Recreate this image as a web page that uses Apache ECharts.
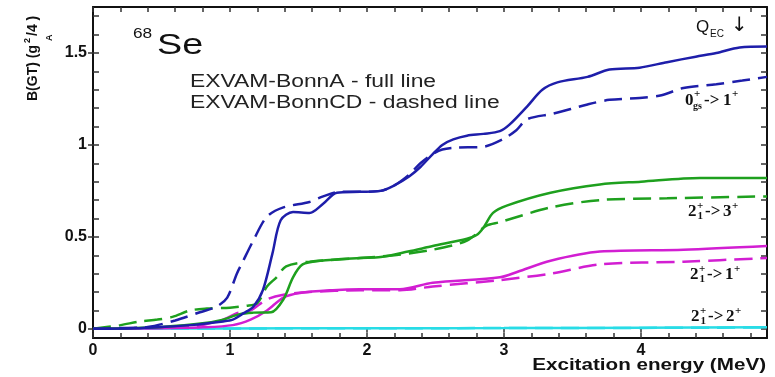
<!DOCTYPE html>
<html>
<head>
<meta charset="utf-8">
<script src="https://cdn.jsdelivr.net/npm/echarts@6/dist/echarts.min.js"></script>
<style>
  html, body { margin: 0; padding: 0; background: #fff; }
  #chart { width: 775px; height: 377px; }
</style>
</head>
<body>
<div id="chart"></div>
<script>
// tick positions and labels
const xTicks = [0, 0.2, 0.4, 0.6, 0.8, 1, 1.2, 1.4, 1.6, 1.8, 2, 2.2, 2.4, 2.6, 2.8, 3, 3.2, 3.4, 3.6, 3.8, 4, 4.2, 4.4, 4.6, 4.8];
const xLabels = [0, 1, 2, 3, 4];
const yTicks = [0, 0.1, 0.2, 0.3, 0.4, 0.5, 0.6, 0.7, 0.8, 0.9, 1, 1.1, 1.2, 1.3, 1.4, 1.5, 1.6, 1.7];
const yLabels = [0, 0.5, 1, 1.5];

// 0gs+ -> 1+
const bonnA_gs1 = [[0,0],[0.3,0.003],[0.5,0.01],[0.71,0.02],[0.95,0.04],[1.02,0.05],[1.1,0.085],[1.17,0.12],[1.24,0.21],[1.31,0.41],[1.37,0.59],[1.46,0.635],[1.58,0.63],[1.68,0.68],[1.78,0.74],[1.95,0.745],[2.1,0.75],[2.2,0.78],[2.31,0.83],[2.39,0.88],[2.48,0.95],[2.55,1.0],[2.63,1.03],[2.73,1.05],[2.85,1.06],[2.97,1.075],[3.04,1.11],[3.17,1.21],[3.28,1.3],[3.39,1.34],[3.61,1.37],[3.77,1.41],[3.99,1.42],[4.19,1.45],[4.4,1.48],[4.55,1.5],[4.72,1.53],[4.92,1.535]];
const bonnCD_gs1 = [[0,0],[0.2,0.004],[0.4,0.01],[0.6,0.045],[0.78,0.09],[0.9,0.12],[0.98,0.17],[1.05,0.3],[1.09,0.36],[1.17,0.48],[1.27,0.61],[1.39,0.66],[1.58,0.69],[1.68,0.72],[1.8,0.745],[1.95,0.745],[2.1,0.75],[2.2,0.78],[2.31,0.84],[2.39,0.9],[2.48,0.95],[2.55,0.975],[2.65,0.985],[2.85,0.99],[2.99,1.03],[3.09,1.08],[3.17,1.14],[3.36,1.17],[3.61,1.22],[3.77,1.245],[3.99,1.255],[4.15,1.27],[4.31,1.31],[4.55,1.33],[4.74,1.35],[4.92,1.37]];

// 2_1+ -> 3+
const bonnA_23 = [[0,0],[0.3,0.004],[0.5,0.01],[0.8,0.03],[0.95,0.05],[1.07,0.08],[1.17,0.088],[1.3,0.09],[1.39,0.16],[1.46,0.28],[1.53,0.35],[1.66,0.37],[1.95,0.385],[2.1,0.39],[2.3,0.42],[2.48,0.45],[2.73,0.49],[2.8,0.51],[2.85,0.55],[2.92,0.63],[3.02,0.67],[3.34,0.74],[3.7,0.785],[4.0,0.8],[4.43,0.82],[4.92,0.82]];
const bonnCD_23 = [[0,0],[0.2,0.02],[0.34,0.04],[0.47,0.05],[0.58,0.065],[0.71,0.1],[0.83,0.11],[1.0,0.115],[1.12,0.125],[1.2,0.14],[1.27,0.23],[1.34,0.28],[1.41,0.34],[1.58,0.365],[1.95,0.385],[2.2,0.4],[2.48,0.43],[2.73,0.48],[2.87,0.56],[2.97,0.58],[3.34,0.66],[3.7,0.7],[4.19,0.71],[4.92,0.72]];

// 2_1+ -> 1+
const bonnA_21 = [[0,0],[0.5,0.003],[0.8,0.008],[1.02,0.02],[1.15,0.05],[1.27,0.1],[1.39,0.17],[1.51,0.195],[1.75,0.21],[1.95,0.215],[2.24,0.215],[2.48,0.25],[2.97,0.28],[3.1,0.31],[3.34,0.37],[3.7,0.42],[4.31,0.43],[4.92,0.45]];
const bonnCD_21 = [[0,0],[0.4,0.005],[0.71,0.01],[0.95,0.05],[1.05,0.085],[1.15,0.1],[1.27,0.16],[1.39,0.185],[1.58,0.2],[1.95,0.21],[2.24,0.21],[2.48,0.23],[2.97,0.265],[3.34,0.3],[3.7,0.35],[4.31,0.365],[4.92,0.385]];

// 2_1+ -> 2+
const bonnA_22 = [[0,0],[1,0.002],[2,0.003],[3,0.004],[4,0.006],[4.92,0.008]];
const bonnCD_22 = [[0,0],[1,0.002],[2,0.003],[3,0.004],[4,0.005],[4.92,0.007]];

const SANS = 'Liberation Sans, Arial, sans-serif';
const SERIF = 'Liberation Serif, Times New Roman, serif';

const BLUE = '#1e1eaa';
const GREEN = '#1ea01e';
const MAGENTA = '#d21ed2';
const CYAN = '#28dce6';

function line(name, data, color, dashed) {
  return {
    name: name,
    type: 'line',
    data: data,
    smooth: 0.3,
    showSymbol: false,
    lineStyle: { color: color, width: 2.5, type: dashed ? [18, 8] : 'solid' }
  };
}

function txt(x, y, s, font, extra, fill) {
  const el = {
    type: 'text', x: x, y: y,
    style: {
      text: s, font: font, fill: fill || '#111',
      align: 'left', verticalAlign: 'middle',
      textAlign: 'left', textVerticalAlign: 'middle'
    }
  };
  return Object.assign(el, extra || {});
}

// "2_1^+ -> n^+" style transition label, pieces placed by hand
function transition(x, y, base, sub, target) {
  const big = 'bold 17px ' + SERIF;
  const small = 'bold 11px ' + SERIF;
  return [
    txt(x, y, base, big),
    txt(x + 9, y - 6, '+', small),
    txt(x + 9.5, y + 4, sub, small),
    txt(x + 17, y, '->', big),
    txt(x + 35, y, target, big),
    txt(x + 44, y - 6, '+', small)
  ];
}

const chart = echarts.init(document.getElementById('chart'));

const axisLineStyle = { color: '#111', width: 2 };
const tickStyle = { color: '#333', width: 1.5 };
const labelStyle = { fontSize: 16, fontWeight: 'bold', color: '#111', fontFamily: SANS };

const option = {
  animation: false,
  backgroundColor: '#fff',
  grid: { left: 93, right: 8, top: 7, bottom: 39 },
  xAxis: [
    {
      type: 'value', min: 0, max: 4.92, position: 'bottom',
      axisLine: { show: true, onZero: false, lineStyle: axisLineStyle },
      axisTick: { show: true, inside: true, length: 5, customValues: xTicks, lineStyle: tickStyle },
      axisLabel: Object.assign({ customValues: xLabels, margin: 5 }, labelStyle),
      splitLine: { show: false }
    },
    {
      type: 'value', min: 0, max: 4.92, position: 'top',
      axisLine: { show: true, onZero: false, lineStyle: axisLineStyle },
      axisTick: { show: true, inside: true, length: 5, customValues: xTicks, lineStyle: tickStyle },
      axisLabel: { show: false },
      splitLine: { show: false }
    },
    {
      type: 'value', min: 0, max: 4.92, position: 'bottom',
      axisLine: { show: false },
      axisTick: { show: true, inside: false, length: 4, customValues: xLabels, lineStyle: tickStyle },
      axisLabel: { show: false },
      splitLine: { show: false }
    }
  ],
  yAxis: [
    {
      type: 'value', min: -0.05, max: 1.75, position: 'left',
      axisLine: { show: true, onZero: false, lineStyle: axisLineStyle },
      axisTick: { show: true, inside: true, length: 6, customValues: yTicks, lineStyle: tickStyle },
      axisLabel: Object.assign({ customValues: yLabels, margin: 6 }, labelStyle),
      splitLine: { show: false }
    },
    {
      type: 'value', min: -0.05, max: 1.75, position: 'right',
      axisLine: { show: true, onZero: false, lineStyle: axisLineStyle },
      axisTick: { show: true, inside: true, length: 6, customValues: yTicks, lineStyle: tickStyle },
      axisLabel: { show: false },
      splitLine: { show: false }
    },
    {
      type: 'value', min: -0.05, max: 1.75, position: 'left',
      axisLine: { show: false },
      axisTick: { show: true, inside: false, length: 5, customValues: yLabels, lineStyle: tickStyle },
      axisLabel: { show: false },
      splitLine: { show: false }
    }
  ],
  series: [
    line('BonnA 2->2', bonnA_22, CYAN, false),
    line('BonnCD 2->2', bonnCD_22, CYAN, true),
    line('BonnA 2->1', bonnA_21, MAGENTA, false),
    line('BonnCD 2->1', bonnCD_21, MAGENTA, true),
    line('BonnA 2->3', bonnA_23, GREEN, false),
    line('BonnCD 2->3', bonnCD_23, GREEN, true),
    line('BonnA 0->1', bonnA_gs1, BLUE, false),
    line('BonnCD 0->1', bonnCD_gs1, BLUE, true)
  ],
  graphic: [
    // nucleus
    txt(133, 34, '68', '15px ' + SANS, { scaleX: 1.15 }),
    txt(157, 46, 'Se', '29px ' + SANS, { scaleX: 1.3 }),
    // model key
    txt(190, 82, 'EXVAM-BonnA - full line', '18px ' + SANS, { scaleX: 1.27 }, '#222'),
    txt(190, 103, 'EXVAM-BonnCD - dashed line', '18px ' + SANS, { scaleX: 1.27 }, '#222'),
    // x axis title
    {
      type: 'text', x: 766, y: 365, scaleX: 1.25,
      style: { text: 'Excitation energy (MeV)', font: 'bold 16.5px ' + SANS, fill: '#111', align: 'right', verticalAlign: 'middle', textAlign: 'right', textVerticalAlign: 'middle' }
    },
    // y axis title, rotated
    {
      type: 'group', x: 33, y: 101, rotation: Math.PI / 2,
      children: [
        txt(0, 0, 'B(GT) (g', 'bold 14px ' + SANS),
        txt(58, -5, '2', 'bold 9px ' + SANS),
        txt(65, 0, '/4 )', 'bold 14px ' + SANS),
        txt(60, 17, 'A', 'bold 9px ' + SANS)
      ]
    },
    // Q_EC marker
    txt(696, 27, 'Q', '17px ' + SANS),
    txt(710, 34, 'EC', '10px ' + SANS),
    txt(731, 26, '\u2193', '20px DejaVu Sans'),
    // 0gs+ -> 1+
    txt(685, 101, '0', 'bold 17px ' + SERIF),
    txt(694, 94, '+', 'bold 11px ' + SERIF),
    txt(693, 106, 'gs', 'bold 10px ' + SERIF),
    txt(704, 101, '->', 'bold 17px ' + SERIF),
    txt(723, 101, '1', 'bold 17px ' + SERIF),
    txt(732, 94, '+', 'bold 11px ' + SERIF)
  ].concat(
    transition(688, 212, '2', '1', '3'),
    transition(690, 275, '2', '1', '1'),
    transition(691, 317, '2', '1', '2')
  )
};

chart.setOption(option);
window.addEventListener('resize', function () { chart.resize(); });
</script>
</body>
</html>
